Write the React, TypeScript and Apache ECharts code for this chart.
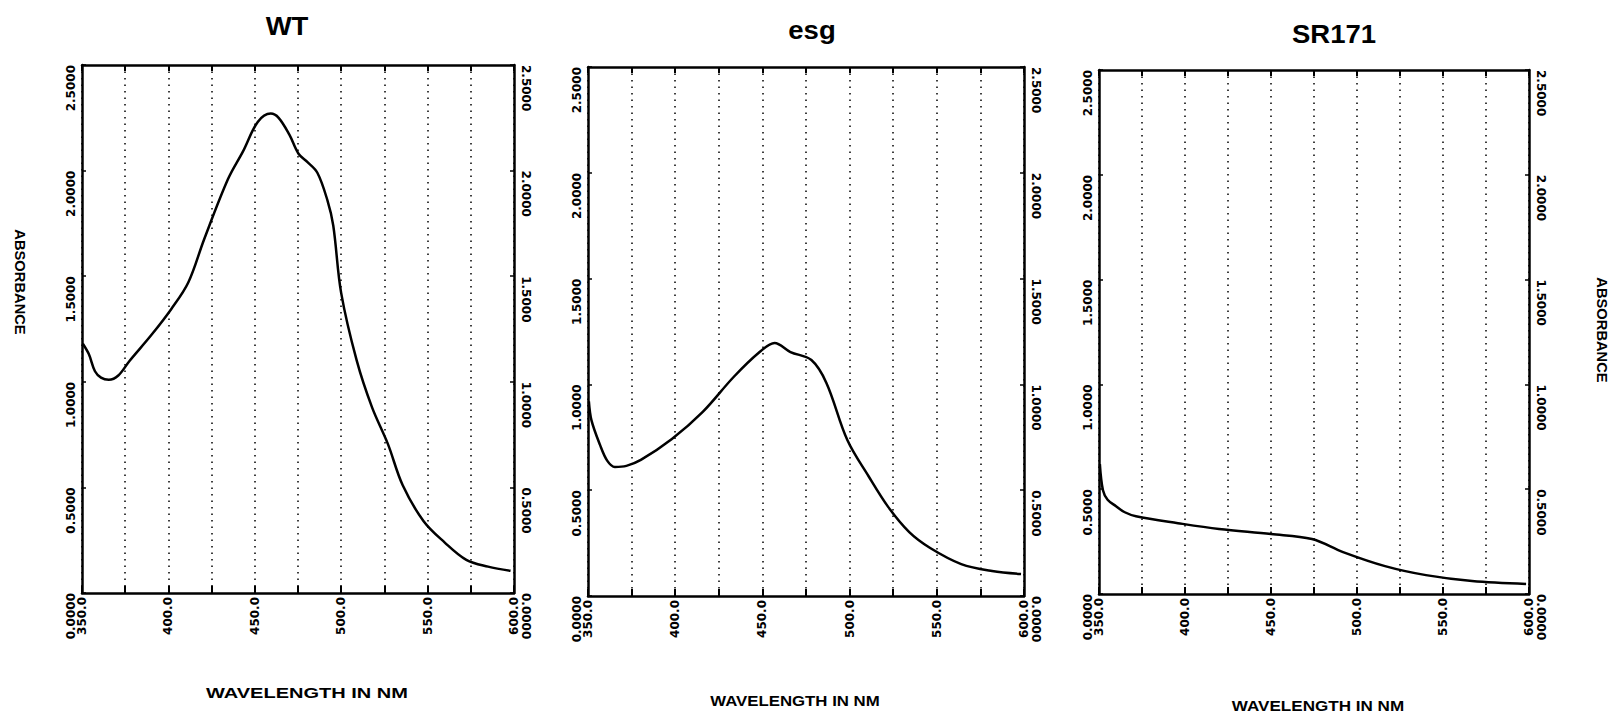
import React, { useEffect, useRef } from "react";
import * as echarts from "echarts";

const panelTitles = ["WT", "esg", "SR171"];
const xAxisTitle = "WAVELENGTH IN NM";
const yAxisTitle = "ABSORBANCE";

const xMin = 350;
const xMax = 600;
const xStep = 25;
const xLabelStep = 50;
const yMin = 0;
const yMax = 2.5;
const yStep = 0.5;

const wtWavelength = [350.5, 354, 357.5, 361, 365.5, 371, 377.6, 390, 401.7, 411.5, 420.7, 434.5, 443.1, 451.7, 459.2, 463.8, 470, 475.3, 480.5, 486.2, 492, 495.4, 500, 509, 517.8, 527, 535.6, 547.7, 559.8, 572.4, 585, 598];
const wtAbsorbance = [1.18, 1.13, 1.05, 1.02, 1.01, 1.03, 1.1, 1.22, 1.345, 1.47, 1.675, 1.96, 2.09, 2.23, 2.27, 2.25, 2.17, 2.08, 2.04, 1.99, 1.86, 1.74, 1.42, 1.1, 0.88, 0.706, 0.51, 0.34, 0.24, 0.157, 0.125, 0.105];

const esgWavelength = [350.5, 352, 356.9, 361, 365.4, 372, 380.3, 398.1, 415.8, 433.5, 448.4, 457, 466.1, 478.1, 486.7, 498.7, 510.8, 522.2, 534.2, 546.2, 564, 581.7, 598.3];
const esgAbsorbance = [0.92, 0.83, 0.714, 0.64, 0.61, 0.615, 0.643, 0.742, 0.87, 1.035, 1.153, 1.196, 1.153, 1.115, 1.007, 0.737, 0.567, 0.42, 0.302, 0.227, 0.151, 0.118, 0.104];

const srWavelength = [350.5, 352.3, 355, 359.9, 365, 371.5, 395.9, 419.8, 450, 473.8, 491.9, 516.3, 540.1, 566.9, 598.3];
const srAbsorbance = [0.62, 0.495, 0.45, 0.419, 0.39, 0.371, 0.338, 0.31, 0.286, 0.262, 0.2, 0.133, 0.09, 0.062, 0.048];

const panelWavelengths = [wtWavelength, esgWavelength, srWavelength];
const panelAbsorbances = [wtAbsorbance, esgAbsorbance, srAbsorbance];

const grids = [
  { left: 82, top: 65, width: 432, height: 528 },
  { left: 588, top: 67, width: 436, height: 529 },
  { left: 1099, top: 70, width: 430, height: 524 },
];

const titlePos = [
  { x: 287, y: 26, size: 25 },
  { x: 812, y: 30, size: 25 },
  { x: 1334, y: 34, size: 25 },
];
const xTitlePos = [
  { x: 307, y: 693, sx: 1.43 },
  { x: 795, y: 701, sx: 1.2 },
  { x: 1318, y: 706, sx: 1.22 },
];

const labelFont = {
  fontFamily: "DejaVu Sans",
  fontWeight: "bold" as const,
  fontSize: 12,
  color: "#000",
};

export default function App() {
  const ref = useRef<HTMLDivElement>(null);
  useEffect(() => {
    if (!ref.current) return;
    const chart = echarts.init(ref.current, null, { renderer: "svg" });
    const xAxes: any[] = [];
    const yAxes: any[] = [];
    const series: any[] = [];
    const axisLine = { show: true, onZero: false, lineStyle: { color: "#000", width: 2.5 } };
    grids.forEach((g, i) => {
      xAxes.push({
        type: "value",
        gridIndex: i,
        position: "bottom",
        min: xMin,
        max: xMax,
        interval: xStep,
        axisLine,
        axisTick: { show: true, inside: true, length: 7, lineStyle: { color: "#000", width: 2 } },
        axisLabel: {
          ...labelFont,
          rotate: 90,
          margin: 4,
          showMinLabel: true,
          showMaxLabel: true,
          formatter: (v: number) => (Math.round(v) % xLabelStep === 0 ? v.toFixed(1) : ""),
        },
        splitLine: { show: true, lineStyle: { color: "#000", width: 1.5, type: [1.5, 5] } },
      });
      xAxes.push({
        type: "value",
        gridIndex: i,
        position: "top",
        min: xMin,
        max: xMax,
        interval: xStep,
        axisLine,
        axisTick: { show: true, inside: true, length: 6, lineStyle: { color: "#000", width: 2 } },
        axisLabel: { show: false },
        splitLine: { show: false },
      });
      yAxes.push({
        type: "value",
        gridIndex: i,
        position: "left",
        min: yMin,
        max: yMax,
        interval: yStep,
        axisLine,
        axisTick: { show: true, inside: true, length: 4, lineStyle: { color: "#000", width: 1.5 } },
        axisLabel: {
          ...labelFont,
          rotate: 90,
          align: "right",
          margin: 5,
          formatter: (v: number) => v.toFixed(4),
        },
        splitLine: { show: false },
      });
      yAxes.push({
        type: "value",
        gridIndex: i,
        position: "right",
        min: yMin,
        max: yMax,
        interval: yStep,
        axisLine,
        axisTick: { show: true, inside: true, length: 4, lineStyle: { color: "#000", width: 1.5 } },
        axisLabel: {
          ...labelFont,
          rotate: -90,
          align: "left",
          margin: 6,
          formatter: (v: number) => v.toFixed(4),
        },
        splitLine: { show: false },
      });
      const wl = panelWavelengths[i];
      const ab = panelAbsorbances[i];
      series.push({
        type: "line",
        name: panelTitles[i],
        xAxisIndex: 2 * i,
        yAxisIndex: 2 * i,
        data: wl.map((w, k) => [w, ab[k]]),
        showSymbol: false,
        smooth: 0.35,
        lineStyle: { color: "#000", width: 2.5 },
      });
    });

    const graphics: any[] = [];
    panelTitles.forEach((t, i) => {
      graphics.push({
        type: "text",
        x: titlePos[i].x,
        y: titlePos[i].y,
        scaleX: 1.1,
        style: {
          text: t,
          font: `bold ${titlePos[i].size}px "Liberation Sans"`,
          fill: "#000",
          align: "center",
          verticalAlign: "middle",
        },
      });
      graphics.push({
        type: "text",
        x: xTitlePos[i].x,
        y: xTitlePos[i].y,
        scaleX: xTitlePos[i].sx,
        style: {
          text: xAxisTitle,
          font: 'bold 14px "Liberation Sans"',
          fill: "#000",
          align: "center",
          verticalAlign: "middle",
        },
      });
    });
    graphics.push({
      type: "text",
      x: 20,
      y: 282,
      rotation: -Math.PI / 2,
      scaleX: 0.98,
      style: { text: yAxisTitle, font: 'bold 15px "Liberation Sans"', fill: "#000", align: "center", verticalAlign: "middle" },
    });
    graphics.push({
      type: "text",
      x: 1602,
      y: 330,
      rotation: -Math.PI / 2,
      scaleX: 1.05,
      style: { text: yAxisTitle, font: 'bold 14px "Liberation Sans"', fill: "#000", align: "center", verticalAlign: "middle" },
    });

    chart.setOption({
      animation: false,
      backgroundColor: "#fff",
      grid: grids.map((g) => ({ ...g, containLabel: false })),
      xAxis: xAxes,
      yAxis: yAxes,
      series,
      graphic: graphics,
    });
    return () => chart.dispose();
  }, []);
  return (
    <div
      ref={ref}
      style={{ position: "absolute", left: 0, top: 0, width: 1621, height: 717, background: "#fff" }}
    />
  );
}
